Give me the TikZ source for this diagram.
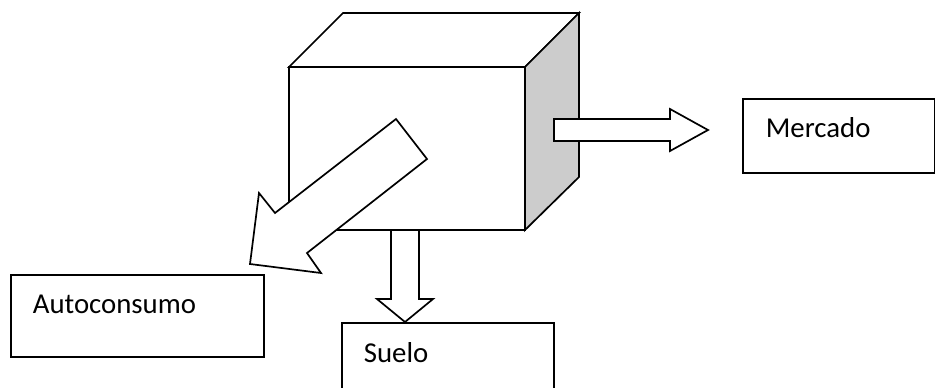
\documentclass[tikz,border=0pt]{standalone}
\usepackage{fontspec}
\setmainfont{Carlito}
\definecolor{sidegray}{HTML}{CCCCCC}
\begin{document}
\begin{tikzpicture}[x=1bp,y=-1bp,
  line width=1.7bp, line join=miter,
  face/.style={draw=black, fill=white},
  blockarrow/.style={draw=black, fill=white},
  labelbox/.style={draw=black},
  lbl/.style={anchor=base west, inner sep=0pt, font=\fontsize{28.8bp}{34bp}\selectfont}]
\useasboundingbox (0,0) rectangle (936,387);
% cube corner coordinates
\coordinate (fTL) at (289,67);
\coordinate (fTR) at (525,67);
\coordinate (fBR) at (525,230);
\coordinate (fBL) at (289,230);
\coordinate (bTL) at (343,13);
\coordinate (bTR) at (579,13);
\coordinate (bBR) at (579,177);
% cube
\draw[face] (fTL) -- (fTR) -- (fBR) -- (fBL) -- cycle;
\draw[face] (fTL) -- (bTL) -- (bTR) -- (fTR) -- cycle;
\draw[draw=black, fill=sidegray] (fTR) -- (bTR) -- (bBR) -- (fBR) -- cycle;
% boxes
\draw[labelbox] (11,275) rectangle (264,357);
\node[lbl] (auto) at (32,313) {Autoconsumo};
\draw[labelbox] (743,99) rectangle (934.5,173);
\node[lbl] (merc) at (765,137) {Mercado};
\draw[labelbox] (342,390) -- (342,323) -- (554,323) -- (554,390);
\node[lbl] (suelo) at (363,362) {Suelo};
% block arrows
\draw[blockarrow] (396,119) -- (275,213) -- (259,193) -- (250,264) -- (321,273) -- (307,253) -- (427,159) -- cycle;
\draw[blockarrow] (391,230) -- (391,299) -- (377,299) -- (405,322) -- (433,299) -- (419,299) -- (419,230) -- cycle;
\draw[blockarrow] (554,119) -- (670,119) -- (670,109) -- (708,130) -- (670,151) -- (670,141) -- (554,141) -- cycle;
\end{tikzpicture}
\end{document}
